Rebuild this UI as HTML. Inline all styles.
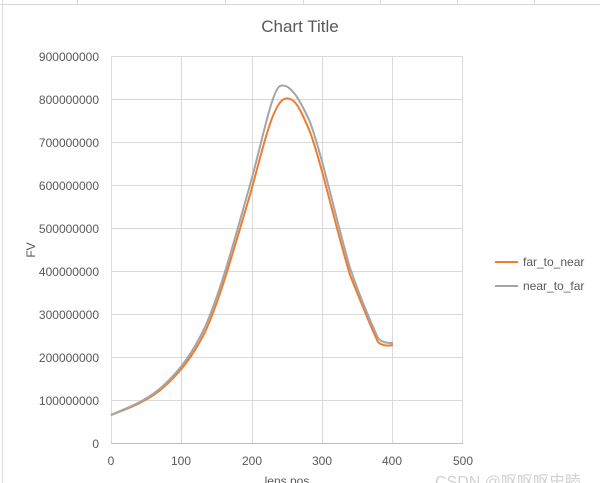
<!DOCTYPE html><html><head><style>body{margin:0;background:#fff}svg{display:block;font-family:"Liberation Sans",sans-serif}</style></head><body>
<svg width="600" height="483" viewBox="0 0 600 483">
<rect width="600" height="483" fill="#fff"/>
<g stroke="#dadada" stroke-width="1">
<line x1="0" y1="4.5" x2="600" y2="4.5"/><line x1="2.5" y1="0" x2="2.5" y2="483"/>
<line x1="77.5" y1="0" x2="77.5" y2="4"/><line x1="225.5" y1="0" x2="225.5" y2="4"/><line x1="303.5" y1="0" x2="303.5" y2="4"/><line x1="380.5" y1="0" x2="380.5" y2="4"/><line x1="457.5" y1="0" x2="457.5" y2="4"/><line x1="534.5" y1="0" x2="534.5" y2="4"/>
</g>
<g stroke="#d9d9d9" stroke-width="1">
<line x1="111" y1="56.5" x2="463" y2="56.5"/><line x1="111" y1="99.5" x2="463" y2="99.5"/><line x1="111" y1="142.5" x2="463" y2="142.5"/><line x1="111" y1="185.5" x2="463" y2="185.5"/><line x1="111" y1="228.5" x2="463" y2="228.5"/><line x1="111" y1="271.5" x2="463" y2="271.5"/><line x1="111" y1="314.5" x2="463" y2="314.5"/><line x1="111" y1="357.5" x2="463" y2="357.5"/><line x1="111" y1="400.5" x2="463" y2="400.5"/>
<line x1="111.5" y1="56" x2="111.5" y2="443"/><line x1="181.5" y1="56" x2="181.5" y2="443"/><line x1="252.5" y1="56" x2="252.5" y2="443"/><line x1="322.5" y1="56" x2="322.5" y2="443"/><line x1="392.5" y1="56" x2="392.5" y2="443"/><line x1="462.5" y1="56" x2="462.5" y2="443"/>
</g>
<line x1="111" y1="443.5" x2="463" y2="443.5" stroke="#bfbfbf"/>
<text x="300" y="32" font-size="17" fill="#595959" text-anchor="middle">Chart Title</text>
<g font-size="12" fill="#595959" text-anchor="end">
<text x="99" y="61">900000000</text><text x="99" y="104">800000000</text><text x="99" y="147">700000000</text><text x="99" y="190">600000000</text><text x="99" y="233">500000000</text><text x="99" y="276">400000000</text><text x="99" y="319">300000000</text><text x="99" y="362">200000000</text><text x="99" y="405">100000000</text><text x="99" y="448">0</text>
</g>
<g font-size="12" fill="#595959" text-anchor="middle">
<text x="111" y="465">0</text><text x="181" y="465">100</text><text x="252" y="465">200</text><text x="322" y="465">300</text><text x="392" y="465">400</text><text x="463" y="465">500</text>
<text x="287" y="485">lens pos</text>
</g>
<text x="35" y="250" font-size="12" fill="#595959" text-anchor="middle" transform="rotate(-90 35 250)">FV</text>
<path d="M111,415 C130,408 150,400 165,386 C180,372 192,358 205,332 C220,300 235,245 250,195 C262,152 272,105 284,99 C294,95 300,108 310,132 C322,165 335,225 350,275 C362,305 372,330 378,342 C382,346 388,346 393,345" fill="none" stroke="#ed7d31" stroke-width="2"/>
<path d="M111,415 C130,407 150,399 165,384 C180,370 192,354 205,327 C220,294 235,238 250,185 C262,142 272,90 280,86 C290,82 300,100 310,122 C322,155 335,215 350,268 C362,303 372,325 378,338 C382,343 388,343 393,343" fill="none" stroke="#a5a5a5" stroke-width="2"/>
<line x1="495" y1="262" x2="518" y2="262" stroke="#ed7d31" stroke-width="2"/>
<text x="523" y="266" font-size="12" fill="#595959">far_to_near</text>
<line x1="495" y1="286" x2="518" y2="286" stroke="#a5a5a5" stroke-width="2"/>
<text x="523" y="290" font-size="12" fill="#595959">near_to_far</text>
<text x="435" y="487" font-size="16" fill="#d0d0d0" font-family="'Liberation Sans','Noto Sans CJK SC',sans-serif">CSDN @呕呕呕史睦</text>
</svg></body></html>
